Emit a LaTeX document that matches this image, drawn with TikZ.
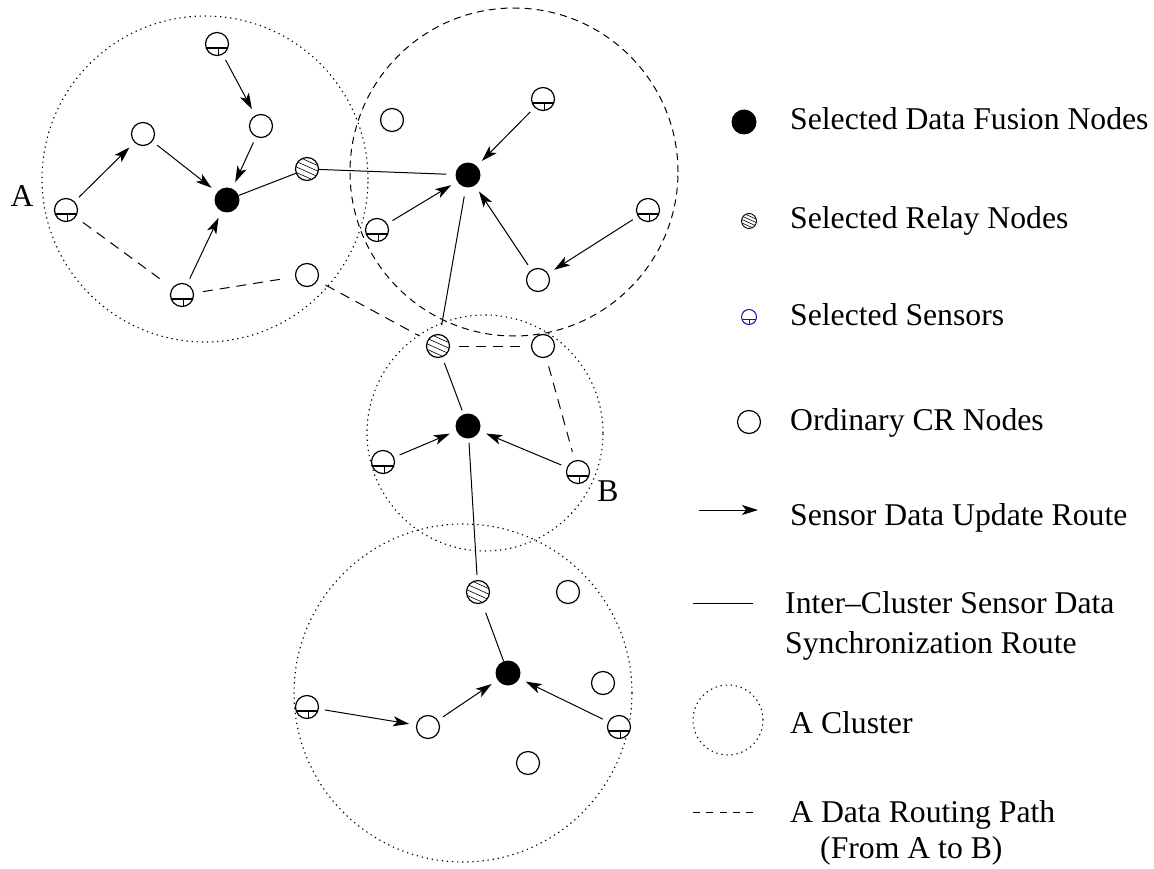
\documentclass[tikz,border=0pt]{standalone}
\usepackage{fontspec}
\setmainfont{Liberation Serif}
\usetikzlibrary{arrows.meta,calc}
\definecolor{sensorblue}{RGB}{20,20,170}
\tikzset{
  txt/.style={font=\fontsize{31.7}{40}\selectfont, inner sep=0pt},
  nd/.style={circle, draw, line width=1.2pt, minimum size=23pt, inner sep=0pt, fill=white},
  ordinary/.style={nd},
  fusion/.style={circle, fill=black, minimum size=25pt, inner sep=0pt},
  hatchlines/.style n args={3}{path picture={
      \foreach \k in {#1}{
        \draw[line width=0.6pt]
          ([shift={(-#2,{0.45*#2+\k*#3})}]path picture bounding box.center) --
          ([shift={(#2,{-0.45*#2+\k*#3})}]path picture bounding box.center);}}},
  relay/.style={nd, hatchlines={-1.5,-0.5,0.5,1.5}{14pt}{5.5pt}},
  sensorpic/.style n args={3}{path picture={
      \draw[line width=#3] ([yshift=-#1]path picture bounding box.west) -- ([yshift=-#1]path picture bounding box.east);
      \draw[line width=#3] ([xshift=#2,yshift=-#1]path picture bounding box.center) -- ([xshift=#2]path picture bounding box.south);}},
  sensor/.style={nd, sensorpic={4pt}{1.6pt}{1.3pt}},
  upd/.style={-{Stealth[length=16pt,width=10pt,inset=4pt]}, line width=1pt, shorten <=6pt, shorten >=7pt},
  sync/.style={line width=1pt},
  route/.style={line width=1pt, dash pattern=on 10pt off 7pt, shorten <=9pt, shorten >=9pt},
  cluster/.style={circle, draw, inner sep=0pt, line width=1.1pt, dash pattern=on 1.3pt off 3.8pt},
  clusterdash/.style={circle, draw, inner sep=0pt, line width=1pt, dash pattern=on 7pt off 5pt},
}
\begin{document}
\begin{tikzpicture}[x=1pt, y=-1pt]
\useasboundingbox (0,0) rectangle (1154,869);

% clusters
\node[cluster, minimum size=326pt] (C1) at (205,179) {};
\node[clusterdash, minimum size=328pt] (C2) at (514,172) {};
\node[cluster, minimum size=236pt] (C3) at (485,433) {};
\node[cluster, minimum size=338pt] (C4) at (463,693) {};

% cluster 1
\node[sensor] (s1) at (217,44) {};
\node[ordinary] (o1) at (261,126) {};
\node[ordinary] (o2) at (143,134) {};
\node[fusion] (f1) at (227,200) {};
\node[relay] (r1) at (307,169) {};
\node[sensor] (sA) at (66,210) {};
\node[sensor] (s2) at (182,295) {};
\node[ordinary] (o3) at (307,275) {};

% cluster 2
\node[ordinary] (o4) at (392,120) {};
\node[sensor] (s3) at (543,99) {};
\node[fusion] (f2) at (468,175) {};
\node[sensor] (s4) at (377,230) {};
\node[sensor] (s5) at (648,210) {};
\node[ordinary] (o5) at (538,280) {};

% cluster 3
\node[relay] (r2) at (438,346) {};
\node[ordinary] (o6) at (543,346) {};
\node[fusion] (f3) at (468,426) {};
\node[sensor] (s6) at (383,462) {};
\node[sensor] (sB) at (578,472) {};

% cluster 4
\node[relay] (r3) at (478,592) {};
\node[ordinary] (o7) at (568,592) {};
\node[fusion] (f4) at (508,673) {};
\node[ordinary] (o8) at (603,683) {};
\node[sensor] (s7) at (307,707) {};
\node[ordinary] (o9) at (428,727) {};
\node[sensor] (s8) at (619,727) {};
\node[ordinary] (o10) at (528,763) {};

% end point labels
\node[txt] (lA) at (22,196) {A};
\node[txt] (lB) at (608,491) {B};

% sensor data update routes
\draw[upd] (s1) -- (o1);
\draw[upd] (o1) -- (f1);
\draw[upd] (sA) -- (o2);
\draw[upd] (o2) -- (f1);
\draw[upd] (s2) -- (f1);
\draw[upd] (s3) -- (f2);
\draw[upd] (s4) -- (f2);
\draw[upd] (s5) -- (o5);
\draw[upd] (o5) -- (f2);
\draw[upd] (s6) -- (f3);
\draw[upd] (sB) -- (f3);
\draw[upd] (s7) -- (o9);
\draw[upd] (o9) -- (f4);
\draw[upd] (s8) -- (f4);

% inter-cluster synchronization routes
\draw[sync] (f1) -- (r1);
\draw[sync, shorten >=9pt] (r1) -- (f2);
\draw[sync, shorten <=9pt, shorten >=9pt] (f2) -- (r2);
\draw[sync, shorten <=6pt, shorten >=4pt] (r2) -- (f3);
\draw[sync, shorten <=4pt, shorten >=5pt] (f3) -- (r3);
\draw[sync, shorten <=10pt] (r3) -- (f4);

% data routing path from A to B
\draw[route] (sA) -- (s2);
\draw[route] (s2) -- (o3);
\draw[route] (o3) -- (r2);
\draw[route] (r2) -- (o6);
\draw[route] (o6) -- (sB);

% legend
\node[fusion] (kf) at (744,122) {};
\node[txt, anchor=base west] (tf) at (790,130) {Selected Data Fusion Nodes};
\node[circle, draw, line width=0.9pt, minimum size=15pt, inner sep=0pt,
      hatchlines={-1.5,-0.5,0.5,1.5}{9pt}{3.4pt}] (kr) at (749,221) {};
\node[txt, anchor=base west] (tr) at (790,229) {Selected Relay Nodes};
\node[circle, draw=sensorblue, line width=1pt, minimum size=15pt, inner sep=0pt,
      sensorpic={2.4pt}{0.8pt}{0.9pt}, every path/.style={draw=sensorblue}] (ks) at (749,317) {};
\node[txt, anchor=base west] (ts) at (790,325) {Selected Sensors};
\node[ordinary] (ko) at (749,422) {};
\node[txt, anchor=base west] (to) at (790,430) {Ordinary CR Nodes};

\coordinate (ua) at (699,510);
\coordinate (ub) at (758,510);
\draw[upd, shorten <=0pt, shorten >=0pt] (ua) -- (ub);
\node[txt, anchor=base west] (tu) at (790,525) {Sensor Data Update Route};

\coordinate (sa) at (693,603);
\coordinate (sb) at (753,603);
\draw[sync] (sa) -- (sb);
\node[txt, anchor=base west] (ti1) at (785,613) {Inter--Cluster Sensor Data};
\node[txt, anchor=base west] (ti2) at (785,653) {Synchronization Route};

\node[cluster, minimum size=70pt] (kc) at (728,720) {};
\node[txt, anchor=base west] (tc) at (790,733) {A Cluster};

\coordinate (ra) at (693,812);
\coordinate (rb) at (753,812);
\draw[line width=0.9pt, dash pattern=on 7pt off 6.25pt] (ra) -- (rb);
\node[txt, anchor=base west] (tp1) at (790,822) {A Data Routing Path};
\node[txt, anchor=base west] (tp2) at (820,858) {(From A to B)};
\end{tikzpicture}
\end{document}
